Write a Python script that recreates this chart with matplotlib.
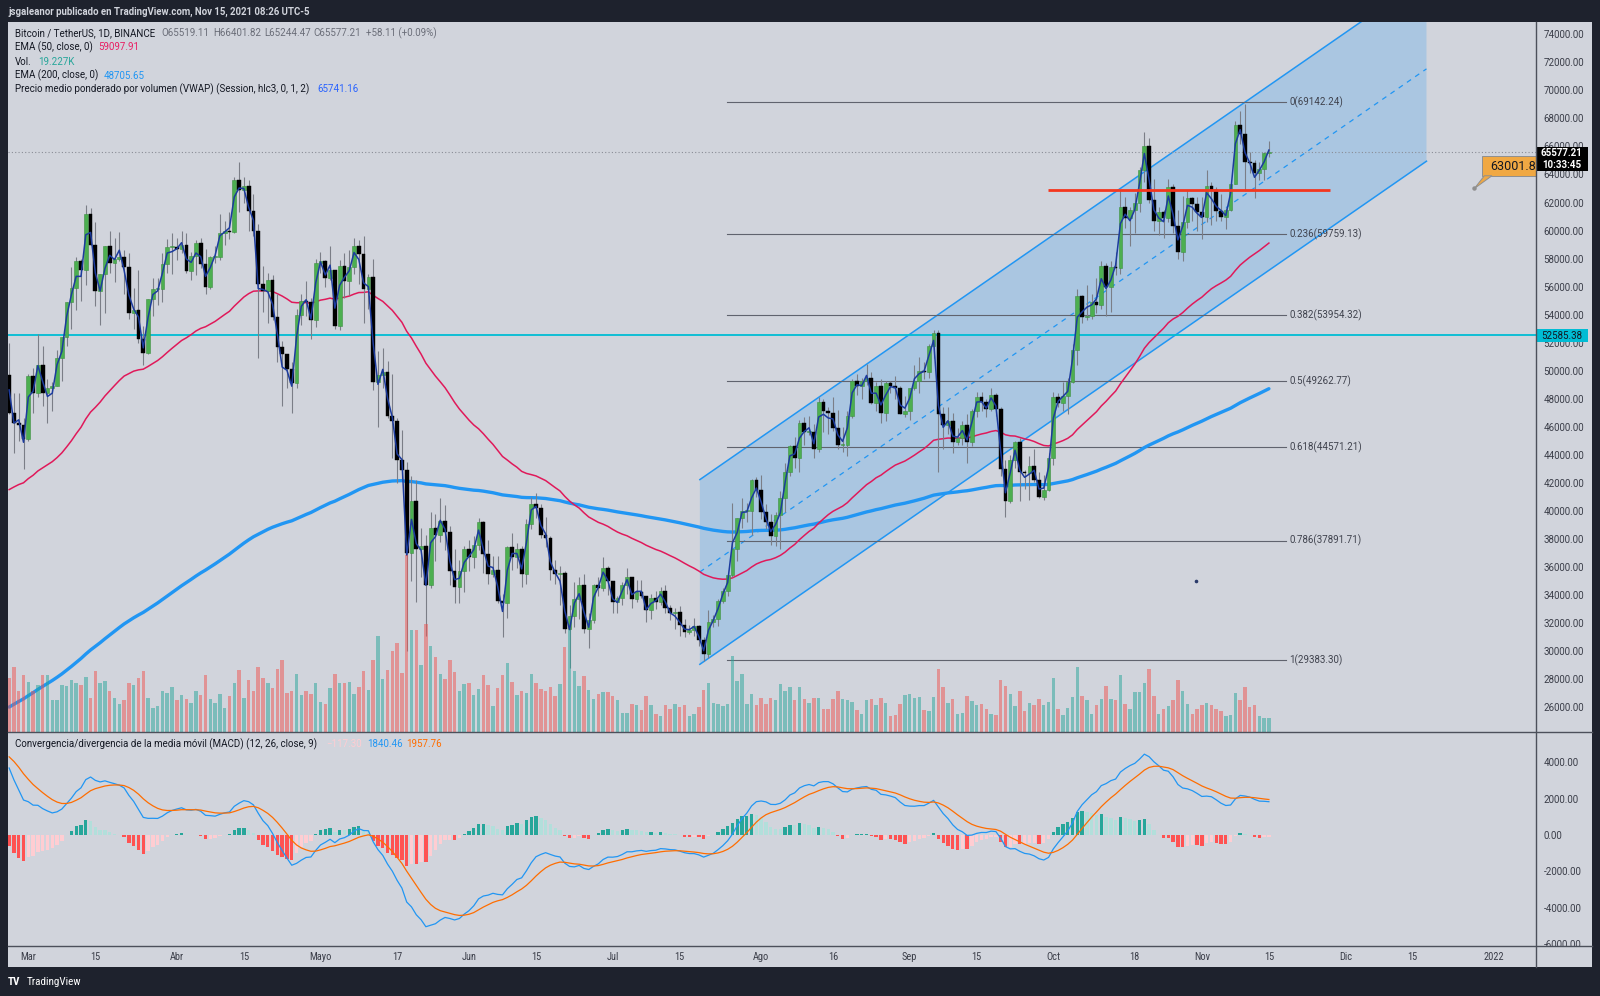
import numpy as np
import pandas as pd
import matplotlib
matplotlib.use('Agg')
import matplotlib.pyplot as plt
from matplotlib.patches import Rectangle, Polygon
from matplotlib import font_manager as fm
import matplotlib.transforms as mtrans
from matplotlib.ticker import FixedLocator, FuncFormatter

W, H = 1600, 996
BG = '#d1d4dc'
DARK = '#1e222d'

avail = {f.name for f in fm.fontManager.ttflist}
def pick(*names):
    for n in names:
        if n in avail:
            return n
    return 'DejaVu Sans'
FONT = pick('Roboto', 'Liberation Sans', 'DejaVu Sans')
NARROW = pick('Roboto Condensed', 'Liberation Sans Narrow', 'Roboto')
plt.rcParams['font.family'] = [FONT, 'DejaVu Sans']

# ---------------- data (BTC/USDT daily, thousands of USD) ----------------
start_date = '2021-02-25'
end_date = '2021-11-15'
ref_date = '2021-03-01'

open_k = [49.7, 47.0, 46.3, 46.1,
  45.1, 49.6, 48.4, 50.4, 48.4, 48.8, 48.9, 50.9, 52.4, 54.9, 55.9, 57.8, 57.2, 61.2, 59.0, 55.7, 56.9, 58.9, 57.7, 58.0, 58.1, 57.4, 54.1, 54.3, 52.3, 51.3, 55.1, 55.8, 55.8, 57.6, 58.8,
  58.8, 58.7, 59.0, 57.1, 58.2, 59.1, 57.6, 56.0, 58.1, 58.1, 59.8, 60.0, 59.9, 63.6, 62.9, 63.2, 61.4, 60.0, 56.2, 55.7, 56.5, 53.8, 51.7, 51.2, 50.1, 49.1, 54.0, 55.0, 54.9, 53.6,
  57.7, 57.8, 56.6, 57.2, 53.2, 57.5, 56.4, 57.4, 58.9, 58.3, 55.8, 56.7, 49.2, 49.7, 49.9, 46.8, 46.4, 43.6, 42.9, 37.0, 40.7, 37.3, 37.5, 34.7, 38.8, 38.3, 39.3, 38.5, 35.7, 34.6, 35.7,
  37.3, 36.7, 37.6, 39.2, 36.9, 35.5, 35.8, 33.6, 33.4, 37.4, 36.7, 37.3, 35.5, 39.1, 40.5, 40.2, 38.3, 38.1, 35.8, 35.5, 35.6, 31.6, 32.5, 33.7, 34.7, 31.6, 32.2, 34.7, 34.5, 35.9,
  35.0, 33.5, 33.8, 34.7, 35.3, 33.7, 34.2, 33.9, 32.9, 33.8, 33.5, 34.3, 33.1, 32.7, 32.8, 31.9, 31.4, 31.5, 31.8, 30.8, 29.8, 32.1, 32.3, 33.6, 34.3, 35.4, 37.3, 39.5, 40.0, 40.0, 42.2,
  41.5, 39.9, 39.2, 38.2, 39.7, 40.9, 42.8, 44.6, 43.8, 46.3, 45.6, 45.6, 44.4, 47.8, 47.1, 47.0, 45.9, 44.7, 44.7, 46.8, 49.3, 48.9, 49.3, 49.5, 47.7, 48.9, 47.0, 49.1, 48.9, 48.8, 46.9,
  47.1, 48.8, 49.3, 50.0, 49.9, 51.8, 52.7, 46.9, 46.1, 46.4, 44.9, 45.2, 46.1, 44.9, 47.1, 48.1, 47.8, 47.3, 48.3, 47.3, 43.0, 40.7, 43.6, 44.9, 42.8, 42.7, 43.2, 42.2, 41.0, 41.5,
  43.8, 48.1, 47.7, 48.2, 49.2, 51.5, 55.3, 53.8, 53.9, 54.9, 54.7, 57.5, 56.0, 57.4, 57.3, 61.7, 60.9, 61.5, 62.0, 64.3, 66.0, 62.2, 60.7, 61.3, 60.9, 63.1, 60.3, 58.5, 60.6, 62.3, 61.9,
  61.3, 61.0, 63.2, 62.9, 61.4, 61.0, 61.5, 63.3, 67.5, 66.9, 64.9, 64.8, 64.1, 64.4, 65.519]

high_k = [52.0, 48.4, 48.4, 46.6,
  49.8, 50.2, 52.6, 51.8, 49.4, 49.2, 51.5, 52.4, 54.9, 57.4, 58.1, 58.0, 61.8, 61.6, 60.6, 56.9, 58.9, 60.0, 59.5, 59.9, 58.6, 58.4, 55.9, 57.2, 53.2, 55.1, 56.6, 56.6, 58.4, 59.4, 59.8,
  59.5, 60.0, 59.8, 58.5, 59.3, 59.5, 58.7, 58.2, 58.9, 61.2, 60.7, 61.3, 63.8, 64.9, 63.8, 63.6, 62.6, 60.5, 57.5, 57.0, 56.8, 55.5, 52.1, 51.2, 50.6, 54.4, 55.5, 56.4, 55.2, 58.0,
  58.5, 57.9, 58.9, 57.2, 57.9, 58.4, 58.6, 59.5, 59.3, 59.6, 56.9, 58.0, 51.4, 51.6, 50.7, 49.8, 46.6, 45.8, 43.5, 42.5, 42.2, 38.8, 38.3, 39.9, 39.8, 40.9, 40.4, 38.9, 37.3, 36.5, 37.5,
  37.9, 38.2, 39.5, 39.3, 37.9, 36.8, 36.8, 34.1, 37.5, 38.4, 37.7, 37.5, 39.4, 41.0, 41.3, 40.5, 39.6, 38.2, 36.5, 36.1, 35.7, 33.3, 34.9, 35.3, 35.5, 32.7, 34.8, 35.3, 36.7, 36.1,
  35.0, 33.9, 34.9, 35.9, 35.3, 35.1, 35.1, 33.9, 34.1, 34.3, 34.6, 34.7, 33.3, 33.1, 33.2, 32.3, 31.9, 32.4, 31.9, 31.0, 32.9, 32.6, 33.7, 34.5, 35.4, 40.6, 39.5, 40.9, 40.6, 42.3, 42.4,
  42.6, 40.5, 39.8, 39.9, 41.4, 43.4, 44.7, 45.3, 46.5, 46.7, 46.8, 46.2, 48.1, 48.0, 47.4, 48.1, 47.2, 46.0, 47.1, 49.4, 49.8, 49.5, 50.5, 49.9, 49.2, 49.4, 49.3, 49.3, 49.6, 48.9, 48.2,
  48.8, 50.4, 51.0, 50.6, 51.9, 52.9, 52.9, 47.4, 47.4, 47.0, 45.9, 46.4, 46.9, 47.3, 48.5, 48.5, 48.0, 48.8, 48.4, 47.4, 43.6, 44.0, 45.0, 45.2, 42.9, 43.9, 44.4, 42.8, 42.6, 44.1,
  48.5, 48.4, 49.2, 49.5, 51.9, 55.8, 55.4, 56.1, 55.5, 56.6, 57.8, 57.7, 57.8, 58.5, 62.9, 62.4, 61.7, 62.7, 64.5, 67.0, 66.6, 63.7, 61.7, 61.5, 63.7, 63.3, 61.5, 62.5, 62.9, 62.4, 62.4,
  62.4, 64.3, 63.5, 63.1, 62.6, 61.6, 63.3, 67.8, 68.5, 69.0, 65.6, 65.0, 64.9, 65.6, 66.402]

low_k = [46.9, 44.1, 45.0, 43.0,
  45.0, 47.0, 48.1, 47.5, 46.3, 47.1, 48.9, 49.3, 51.8, 53.0, 54.3, 55.0, 56.1, 59.0, 54.6, 53.3, 54.1, 57.0, 56.3, 57.8, 55.5, 53.7, 53.0, 52.0, 50.4, 51.2, 53.9, 54.7, 54.9, 57.0, 56.9,
  57.9, 58.4, 57.0, 56.5, 56.8, 57.3, 55.5, 55.8, 57.7, 57.9, 59.0, 59.4, 59.8, 61.3, 62.0, 60.0, 59.6, 50.9, 54.2, 53.4, 53.6, 50.6, 47.5, 48.8, 47.0, 48.8, 53.3, 53.9, 52.3, 53.1,
  57.0, 56.0, 56.5, 53.0, 52.9, 55.2, 55.4, 56.9, 56.2, 53.4, 54.4, 48.6, 46.0, 48.8, 46.6, 43.8, 42.0, 42.3, 30.0, 35.0, 33.5, 35.3, 31.1, 34.5, 36.4, 37.8, 37.2, 34.7, 33.4, 33.4, 34.2,
  35.7, 35.9, 37.2, 35.6, 34.8, 35.3, 33.4, 31.0, 32.4, 35.8, 35.9, 34.6, 34.8, 38.7, 39.5, 38.1, 37.4, 35.1, 34.8, 33.3, 31.3, 28.8, 31.7, 32.3, 31.3, 30.2, 32.0, 33.9, 34.3, 34.0,
  32.7, 32.7, 33.3, 34.1, 33.1, 33.5, 33.8, 32.1, 32.3, 33.0, 33.3, 32.7, 32.2, 31.6, 31.1, 31.0, 31.2, 31.1, 30.4, 29.3, 29.5, 31.7, 31.8, 33.4, 33.9, 35.3, 36.4, 38.8, 39.2, 38.3, 41.0,
  39.4, 38.7, 37.6, 37.5, 37.3, 39.9, 42.5, 43.1, 42.8, 44.7, 45.4, 43.8, 44.2, 45.6, 45.5, 45.7, 44.4, 44.2, 43.9, 46.6, 48.3, 48.0, 49.0, 47.6, 47.1, 46.3, 46.4, 48.4, 48.0, 46.9, 46.7,
  46.5, 48.6, 48.4, 49.4, 49.5, 50.9, 42.8, 44.4, 45.5, 44.1, 44.7, 44.7, 43.4, 44.6, 46.7, 47.1, 46.7, 47.1, 46.8, 42.5, 39.6, 40.6, 43.1, 40.7, 41.6, 40.8, 42.1, 40.9, 40.8, 41.4,
  43.3, 47.4, 47.1, 46.9, 49.1, 50.4, 53.4, 53.6, 53.7, 54.1, 54.4, 53.9, 54.2, 56.8, 56.9, 60.2, 58.9, 59.8, 61.3, 63.5, 62.0, 60.0, 59.7, 59.5, 60.6, 59.8, 58.0, 57.8, 60.2, 60.7, 60.0,
  59.4, 60.6, 60.4, 60.7, 60.7, 60.1, 61.4, 63.3, 66.2, 62.8, 64.1, 62.3, 63.6, 63.6, 65.244]

close_k = [47.0, 46.3, 46.1, 45.1,
  49.6, 48.4, 50.4, 48.4, 48.8, 48.9, 50.9, 52.4, 54.9, 55.9, 57.8, 57.2, 61.2, 59.0, 55.7, 56.9, 58.9, 57.7, 58.0, 58.1, 57.4, 54.1, 54.3, 52.3, 51.3, 55.1, 55.8, 55.8, 57.6, 58.8, 58.8,
  58.7, 59.0, 57.1, 58.2, 59.1, 57.6, 56.0, 58.1, 58.1, 59.8, 60.0, 59.9, 63.6, 62.9, 63.2, 61.4, 60.0, 56.2, 55.7, 56.5, 53.8, 51.7, 51.2, 50.1, 49.1, 54.0, 55.0, 54.9, 53.6, 57.7,
  57.8, 56.6, 57.2, 53.2, 57.5, 56.4, 57.4, 58.9, 58.3, 55.8, 56.7, 49.2, 49.7, 49.9, 46.8, 46.4, 43.6, 42.9, 37.0, 40.7, 37.3, 37.5, 34.7, 38.8, 38.3, 39.3, 38.5, 35.7, 34.6, 35.7, 37.3,
  36.7, 37.6, 39.2, 36.9, 35.5, 35.8, 33.6, 33.4, 37.4, 36.7, 37.3, 35.5, 39.1, 40.5, 40.2, 38.3, 38.1, 35.8, 35.5, 35.6, 31.6, 32.5, 33.7, 34.7, 31.6, 32.2, 34.7, 34.5, 35.9, 35.0,
  33.5, 33.8, 34.7, 35.3, 33.7, 34.2, 33.9, 32.9, 33.8, 33.5, 34.3, 33.1, 32.7, 32.8, 31.9, 31.4, 31.5, 31.8, 30.8, 29.8, 32.1, 32.3, 33.6, 34.3, 35.4, 37.3, 39.5, 40.0, 40.0, 42.2, 41.5,
  39.9, 39.2, 38.2, 39.7, 40.9, 42.8, 44.6, 43.8, 46.3, 45.6, 45.6, 44.4, 47.8, 47.1, 47.0, 45.9, 44.7, 44.7, 46.8, 49.3, 48.9, 49.3, 49.5, 47.7, 48.9, 47.0, 49.1, 48.9, 48.8, 46.9, 47.1,
  48.8, 49.3, 50.0, 49.9, 51.8, 52.7, 46.9, 46.1, 46.4, 44.9, 45.2, 46.1, 44.9, 47.1, 48.1, 47.8, 47.3, 48.3, 47.3, 43.0, 40.7, 43.6, 44.9, 42.8, 42.7, 43.2, 42.2, 41.0, 41.5, 43.8,
  48.1, 47.7, 48.2, 49.2, 51.5, 55.3, 53.8, 53.9, 54.9, 54.7, 57.5, 56.0, 57.4, 57.3, 61.7, 60.9, 61.5, 62.0, 64.3, 66.0, 62.2, 60.7, 61.3, 60.9, 63.1, 60.3, 58.5, 60.6, 62.3, 61.9, 61.3,
  61.0, 63.2, 62.9, 61.4, 61.0, 61.5, 63.3, 67.5, 66.9, 64.9, 64.8, 64.1, 64.4, 65.5, 65.577]

# volume, thousands of BTC
vol_k = [66, 80, 50, 70,
  62, 50, 58, 70, 70, 40, 40, 58, 57, 64, 60, 58, 68, 42, 75, 61, 63, 50, 42, 35, 39, 60, 58, 66, 75, 42, 30, 32, 50, 48, 55,
  40, 46, 41, 36, 50, 46, 70, 41, 36, 47, 30, 44, 61, 76, 42, 64, 51, 80, 66, 61, 54, 78, 88, 48, 51, 72, 46, 50, 47, 60,
  37, 35, 54, 72, 61, 60, 62, 47, 56, 75, 52, 88, 118, 65, 76, 100, 110, 73, 217, 125, 125, 82, 133, 106, 92, 72, 65, 88, 74, 50, 59,
  60, 46, 53, 70, 58, 32, 54, 70, 85, 62, 46, 50, 48, 72, 60, 53, 50, 56, 44, 59, 104, 125, 75, 57, 69, 52, 41, 47, 49, 49,
  44, 39, 24, 24, 35, 33, 27, 44, 34, 22, 20, 33, 29, 35, 31, 34, 20, 22, 31, 52, 60, 36, 35, 32, 35, 94, 63, 72, 35, 47, 34,
  42, 35, 42, 40, 59, 51, 55, 40, 55, 41, 36, 42, 42, 29, 28, 41, 51, 41, 40, 37, 27, 22, 40, 41, 34, 42, 36, 20, 21, 35, 46,
  47, 42, 43, 27, 26, 43, 78, 56, 36, 41, 22, 24, 44, 38, 34, 35, 28, 23, 21, 64, 57, 47, 32, 50, 26, 36, 33, 41, 34, 37,
  67, 29, 21, 30, 43, 80, 44, 40, 22, 34, 41, 57, 41, 40, 70, 35, 28, 49, 49, 61, 77, 45, 23, 28, 32, 39, 64, 51, 35, 23, 29,
  33, 36, 34, 29, 26, 20, 21, 48, 39, 56, 31, 34, 20, 18, 17]

# indicator starting states (values just before first visible bar)
ema50_seed = 41300.0
ema200_seed = 25800.0
ema12_seed = 51800.0
ema26_seed = 47400.0
signal_seed = 4460.0

# drawings (x in days since 1 Mar 2021, y in USD)
channel_x = [140.2, 291.9]
channel_low = [29062.0, 64948.0]
channel_width = 13175.0
fib_x = [145.8, 262.6]
fib_levels = ['0', '0.236', '0.382', '0.5', '0.618', '0.786', '1']
fib_prices = [69142.24, 59759.13, 53954.32, 49262.77, 44571.21, 37891.71, 29383.30]
red_x = [212.9, 271.8]
red_price = 62900.0
hline_price = 52585.38
last_price = 65577.21
note_x = 301.9
note_price = 63001.8
dot_x, dot_price = 243.8, 35032.0

tick_dates = ['2021-03-01', '2021-03-15', '2021-04-01', '2021-04-15', '2021-05-01', '2021-05-17',
              '2021-06-01', '2021-06-15', '2021-07-01', '2021-07-15', '2021-08-01', '2021-08-16',
              '2021-09-01', '2021-09-15', '2021-10-01', '2021-10-18', '2021-11-01', '2021-11-15',
              '2021-12-01', '2021-12-15', '2022-01-01']
tick_labels = ['Mar', '15', 'Abr', '15', 'Mayo', '17', 'Jun', '15', 'Jul', '15', 'Ago', '16',
               'Sep', '15', 'Oct', '18', 'Nov', '15', 'Dic', '15', '2022']
price_ticks = list(range(26000, 74001, 2000))
macd_ticks = [-6000, -4000, -2000, 0, 2000, 4000]

# ---------------- derived ----------------
dates = pd.date_range(start_date, end_date, freq='D')
ref = pd.Timestamp(ref_date)
x = np.asarray((dates - ref).days, dtype=float)
o = np.array(open_k) * 1000
h = np.array(high_k) * 1000
l = np.array(low_k) * 1000
c = np.array(close_k) * 1000
h = np.maximum(h, np.maximum(o, c))
l = np.minimum(l, np.minimum(o, c))
v = np.array(vol_k, dtype=float)
up = c >= o

def ema(vals, n, seed):
    a = 2.0 / (n + 1)
    out = np.empty(len(vals))
    e = seed
    for i, val in enumerate(vals):
        e = e + a * (val - e)
        out[i] = e
    return out

ema50 = ema(c, 50, ema50_seed)
ema200 = ema(c, 200, ema200_seed)
vwap = (h + l + c) / 3.0
macd = ema(c, 12, ema12_seed) - ema(c, 26, ema26_seed)
signal = ema(macd, 9, signal_seed)
hist = macd - signal
hcols = []
for i, hv in enumerate(hist):
    prev = hist[i - 1] if i > 0 else 0.0
    if hv >= 0:
        hcols.append('#26a69a' if hv > prev else '#b2dfdb')
    else:
        hcols.append('#ffcdd2' if hv > prev else '#ff5252')

# ---------------- layout ----------------
def rect(x0, y0, x1, y1):
    return [x0 / W, 1 - y1 / H, (x1 - x0) / W, (y1 - y0) / H]

PL, PR = 8.0, 1535.7
TOP, SEP1, SEP2, BOT = 22.3, 732.3, 945.7, 967.3
RIGHT = 1591.7

fig = plt.figure(figsize=(W / 100, H / 100), dpi=100, facecolor=DARK)
bgax = fig.add_axes(rect(PL, TOP, RIGHT, BOT), zorder=-10)
bgax.set_facecolor(BG)
bgax.set_xticks([]); bgax.set_yticks([])
for s in bgax.spines.values():
    s.set_visible(False)

XL = (-4.238, 314.7)
ax = fig.add_axes(rect(PL, TOP, PR, SEP1), zorder=1)
mac = fig.add_axes(rect(PL, SEP1, PR, SEP2), zorder=1, sharex=ax)
vax = fig.add_axes(rect(PL, TOP, PR, SEP1), zorder=2, sharex=ax)
for a_ in (ax, mac, vax):
    a_.set_facecolor('none')
    for s in a_.spines.values():
        s.set_visible(False)
ax.set_xlim(*XL)
ax.set_ylim(24212, 74856)
mac.set_ylim(-6100, 5659)
vax.set_ylim(0, 870)
vax.axis('off')

fmt2 = FuncFormatter(lambda val, pos: f'{val:.2f}')
for a_, ticks in ((ax, price_ticks), (mac, macd_ticks)):
    a_.yaxis.tick_right()
    a_.yaxis.set_major_locator(FixedLocator(ticks))
    a_.yaxis.set_major_formatter(fmt2)
    a_.tick_params(axis='y', length=0, pad=5.6, labelsize=7, labelcolor='#3a3d48')
    a_.tick_params(axis='x', bottom=False, labelbottom=False)
    for t in a_.get_yticklabels():
        t.set_fontfamily(FONT)

# channel
cx = np.array(channel_x)
cl = np.array(channel_low)
cu = cl + channel_width
ax.add_patch(Polygon([(cx[0], cl[0]), (cx[0], cu[0]), (cx[1], cu[1]), (cx[1], cl[1])],
                     closed=True, facecolor='#2196f3', alpha=0.22, edgecolor='none', zorder=1))
ax.plot(cx, cl, color='#2196f3', lw=1.1, zorder=2)
ax.plot(cx, cu, color='#2196f3', lw=1.1, zorder=2)
ax.plot(cx, (cl + cu) / 2, color='#2196f3', lw=0.9, ls=(0, (4, 4)), zorder=2)

# fib
for lvl, fp in zip(fib_levels, fib_prices):
    ax.plot(fib_x, [fp, fp], color='#60636e', lw=0.8, zorder=2)
    ax.text(fib_x[1] + 0.7, fp, f'{lvl}({fp:.2f})', fontsize=7, color='#3f424d',
            va='center', ha='left', zorder=8)

# horizontal lines
ax.axhline(hline_price, color='#00bcd4', lw=1.3, zorder=3)
ax.axhline(last_price, color='#8a8d96', lw=0.8, ls=(0, (1, 2)), zorder=3)

# moving averages
ax.plot(x, ema200, color='#2196f3', lw=2.4, zorder=3, solid_capstyle='round')
ax.plot(x, ema50, color='#e0195a', lw=1.1, zorder=3)

# candles
ax.vlines(x, l, h, color='#7b7e87', lw=0.8, zorder=4)
body_bot = np.minimum(o, c)
body_h = np.maximum(np.abs(c - o), 90)
ax.bar(x[up], body_h[up], bottom=body_bot[up], width=0.78, color='#4caf50',
       edgecolor='#3f8f43', linewidth=0.4, zorder=4.5)
ax.bar(x[~up], body_h[~up], bottom=body_bot[~up], width=0.78, color='#000000',
       edgecolor='#000000', linewidth=0.3, zorder=4.5)
ax.plot(x, vwap, color='#1c3b9e', lw=1.1, zorder=5)

# red support line
ax.plot(red_x, [red_price, red_price], color='#f4361e', lw=2.0, zorder=6, solid_capstyle='butt')

# tiny dot
ax.plot([dot_x], [dot_price], marker='o', ms=1.6, color='#2a3a6a', zorder=6)

# price note callout
px_per_usd = (ax.transData.transform((0, 1000))[1] - ax.transData.transform((0, 0))[1]) / 1000.0
box_bot = note_price + 12.3 / px_per_usd
box_top = note_price + 32.3 / px_per_usd
bx0 = note_x + 1.67
ax.add_patch(Rectangle((bx0, box_bot), 30, box_top - box_bot, facecolor='#f0a843',
                       edgecolor='#8f8f8f', lw=0.7, zorder=7, clip_on=True))
ax.add_patch(Polygon([(bx0 + 0.4, box_bot + 30), (note_x, note_price), (bx0 + 2.0, box_bot + 30)],
                     closed=True, facecolor='#f0a843', edgecolor='#8f8f8f', lw=0.7, zorder=7))
ax.plot([note_x], [note_price], marker='o', ms=2.2, color='#8f8f8f', zorder=7.5)
ax.text(bx0 + 1.7, (box_bot + box_top) / 2, f'{note_price:.1f}', fontsize=9, color='#131722',
        va='center', ha='left', zorder=8, clip_on=True)

# volume overlay
vcol = np.where(up, '#26a69a', '#ef5350')
vax.bar(x, v, width=0.72, color=vcol, alpha=0.5, zorder=1, linewidth=0)

# MACD pane
mac.bar(x, hist, width=0.7, color=hcols, zorder=2, linewidth=0)
mac.plot(x, macd, color='#2196f3', lw=0.9, zorder=3)
mac.plot(x, signal, color='#ff6d00', lw=0.9, zorder=3)

# time axis labels
tx = np.asarray((pd.to_datetime(tick_dates) - ref).days, dtype=float)
btrans = mtrans.blended_transform_factory(mac.transData, fig.transFigure)
for xv, lab in zip(tx, tick_labels):
    fig.text(xv, 1 - 956.7 / H, lab, transform=btrans, ha='center', va='center',
             fontsize=7.5, color='#3a3d48', family=[NARROW, 'DejaVu Sans'])

# ---------------- overlay (UI chrome) ----------------
ov = fig.add_axes([0, 0, 1, 1], zorder=20)
ov.set_xlim(0, W); ov.set_ylim(H, 0)
ov.axis('off')
ov.add_patch(Rectangle((PR + 0.5, SEP2 + 0.5), RIGHT - PR - 0.5, BOT - SEP2 - 0.5, facecolor=BG, edgecolor='none'))
sepc = '#4c505b'
ov.plot([PL, RIGHT], [SEP1, SEP1], color=sepc, lw=1.0)
ov.plot([PL, RIGHT], [SEP2, SEP2], color=sepc, lw=1.0)
ov.plot([PR, PR], [TOP, BOT], color=sepc, lw=1.0)

# price labels on the axis
ov.add_patch(Rectangle((PR, 146.7), 52, 24.3, facecolor='#000000', edgecolor='none'))
ov.text(PR + 26, 153.0, f'{last_price:.2f}', color='white', fontsize=7, fontweight='bold', ha='center', va='center')
ov.text(PR + 26, 164.5, '10:33:45', color='white', fontsize=7, fontweight='bold', ha='center', va='center')
ov.add_patch(Rectangle((PR, 329.3), 52, 12.4, facecolor='#00bcd4', edgecolor='none'))
ov.text(PR + 26, 335.6, f'{hline_price:.2f}', color='#131722', fontsize=7, ha='center', va='center')

# header & footer
ov.text(8.3, 11.5, 'jsgaleanor publicado en TradingView.com, Nov 15, 2021 08:26 UTC-5',
        color='#d1d4dc', fontsize=6.9, fontweight='bold', ha='left', va='center')
ov.text(8.0, 981.7, 'TV', color='white', fontsize=8, fontweight='heavy', ha='left', va='center',
        family=[NARROW, 'DejaVu Sans'])
ov.text(26.5, 981.7, 'TradingView', color='white', fontsize=8, ha='left', va='center',
        family=[NARROW, 'DejaVu Sans'])

# legends
LC = '#131722'
fs = 7.0
rows = [
    (33.3, [(14.7, 'Bitcoin / TetherUS, 1D, BINANCE', LC), (161.7, 'O65519.11', '#6a6d78'),
            (213.3, 'H66401.82', '#6a6d78'), (264.3, 'L65244.47', '#6a6d78'),
            (313.3, 'C65577.21', '#6a6d78'), (366.0, '+58.11 (+0.09%)', '#6a6d78')]),
    (47.3, [(14.7, 'EMA (50, close, 0)', LC), (98.7, '59097.91', '#e91e63')]),
    (61.7, [(14.7, 'Vol.', LC), (37.7, '19.227K', '#26a69a')]),
    (75.7, [(14.7, 'EMA (200, close, 0)', LC), (104.0, '48705.65', '#2196f3')]),
    (89.0, [(14.7, 'Precio medio ponderado por volumen (VWAP) (Session, hlc3, 0, 1, 2)', LC),
            (317.3, '65741.16', '#2962ff')]),
    (744.3, [(14.7, 'Convergencia/divergencia de la media móvil (MACD) (12, 26, close, 9)', LC),
             (326.0, '\u2212117.30', '#ffcdd2'), (366.7, '1840.46', '#2196f3'),
             (406.0, '1957.76', '#ff6d00')]),
]
for yy, items in rows:
    for xx, s, col in items:
        ov.text(xx, yy, s, color=col, fontsize=fs, ha='left', va='center')

fig.savefig('out.png', dpi=100, facecolor=DARK)
